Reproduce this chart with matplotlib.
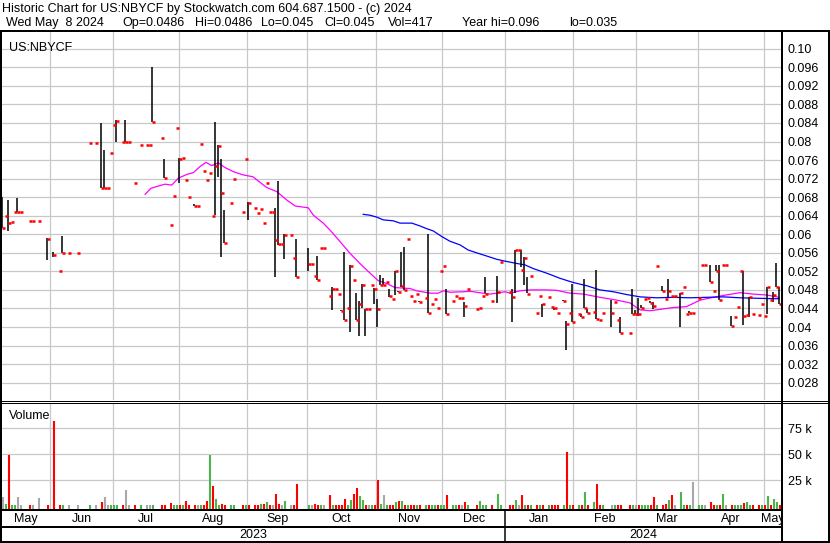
import numpy as np
import matplotlib
matplotlib.use("Agg")
import matplotlib.pyplot as plt
from matplotlib.lines import Line2D

plt.rcParams['font.family'] = ['Liberation Sans', 'DejaVu Sans']

W, H = 830, 543

# closing prices by trading day index (0 = first day shown)
close_day = [0, 1, 2, 3, 4, 5, 6, 9, 10, 12, 15, 17, 19, 20, 22, 25, 29, 31, 33, 34,
             35, 36, 37, 38, 40, 41, 42, 44, 46, 48, 49, 50, 53, 54, 56, 57, 58, 59, 60, 61,
             62, 64, 65, 66, 67, 68, 69, 70, 71, 72, 73, 74, 76, 77, 80, 81, 82, 84, 85, 86,
             87, 88, 89, 90, 91, 92, 93, 94, 96, 97, 98, 102, 103, 104, 105, 106, 107, 109, 110, 111,
             112, 113, 114, 115, 116, 117, 118, 119, 120, 121, 122, 123, 124, 125, 126, 127, 128, 129, 130, 131,
             132, 133, 134, 135, 136, 137, 138, 139, 141, 142, 143, 144, 145, 146, 147, 148, 150, 151, 152, 153,
             154, 155, 158, 159, 160, 161, 163, 165, 166, 169, 170, 171, 172, 173, 174, 175, 176, 178, 179, 180,
             182, 183, 184, 185, 187, 188, 189, 190, 192, 193, 194, 195, 197, 198, 199, 200, 203, 204, 205, 206,
             209, 210, 211, 212, 213, 214, 215, 216, 217, 218, 220, 221, 222, 223, 224, 226, 227, 228, 229, 230,
             232, 233, 234, 236, 237, 238, 239, 240, 241, 243, 244, 245, 246, 247, 248, 249, 250, 252, 253, 254,
             255, 256, 257, 258, 259]
close = [0.0613, 0.064, 0.0625, 0.0627, 0.0649, 0.0649, 0.0649, 0.0629, 0.0629, 0.0629, 0.059, 0.0556, 0.0521, 0.056, 0.056, 0.056, 0.0797, 0.0797, 0.070, 0.070,
         0.070, 0.0776, 0.0836, 0.0845, 0.080, 0.080, 0.080, 0.0711, 0.0793, 0.0793, 0.0793, 0.0842, 0.0807, 0.0722, 0.0621, 0.0683, 0.083, 0.0763, 0.0765, 0.0716,
         0.0681, 0.0662, 0.0662, 0.0795, 0.0737, 0.0716, 0.0733, 0.064, 0.0748, 0.0791, 0.069, 0.0582, 0.0668, 0.072, 0.0649, 0.0762, 0.0668, 0.0657, 0.0646, 0.0655,
         0.0625, 0.0711, 0.0649, 0.0649, 0.0588, 0.0578, 0.0578, 0.0599, 0.0599, 0.0549, 0.0508, 0.0536, 0.0536, 0.051, 0.0501, 0.057, 0.057, 0.0467, 0.0483, 0.0482,
         0.0471, 0.0435, 0.0416, 0.0441, 0.0532, 0.0501, 0.0416, 0.0449, 0.0491, 0.0438, 0.0438, 0.0491, 0.0483, 0.0438, 0.0491, 0.0491, 0.0497, 0.0467, 0.0461, 0.0521,
         0.0475, 0.0488, 0.048, 0.059, 0.0467, 0.0456, 0.0471, 0.0455, 0.0463, 0.0431, 0.0449, 0.0461, 0.0442, 0.0521, 0.0532, 0.0428, 0.0456, 0.0467, 0.0463, 0.0463,
         0.0446, 0.0483, 0.0438, 0.0442, 0.0467, 0.0471, 0.0456, 0.0475, 0.0541, 0.0475, 0.0465, 0.0565, 0.0565, 0.0524, 0.0549, 0.0471, 0.0511, 0.0431, 0.0467, 0.0449,
         0.0465, 0.0444, 0.044, 0.0431, 0.0456, 0.0407, 0.0431, 0.0411, 0.0427, 0.0422, 0.0442, 0.0431, 0.0433, 0.0418, 0.0416, 0.0431, 0.0431, 0.0455, 0.0415, 0.0388,
         0.0386, 0.0429, 0.0429, 0.0427, 0.0442, 0.0461, 0.0463, 0.0452, 0.0446, 0.0532, 0.0478, 0.0461, 0.0478, 0.0466, 0.0466, 0.0473, 0.0487, 0.0427, 0.0431, 0.0431,
         0.0462, 0.0534, 0.0534, 0.0497, 0.0478, 0.0521, 0.0458, 0.0534, 0.0534, 0.0402, 0.0422, 0.0444, 0.0521, 0.0424, 0.0425, 0.0465, 0.0427, 0.0425, 0.0449, 0.0424,
         0.0487, 0.0458, 0.0469, 0.0487, 0.045]

# daily high-low ranges (only days where high != low)
range_day = [0, 2, 5, 15, 17, 20, 33, 34, 38, 41, 50, 54, 59, 64, 71, 72, 73, 74, 82, 91,
             92, 94, 98, 102, 105, 110, 113, 114, 116, 118, 119, 120, 121, 124, 125, 126, 127, 129, 131, 132,
             133, 134, 139, 142, 148, 154, 161, 165, 170, 171, 173, 174, 175, 180, 184, 187, 188, 190, 193, 194,
             195, 198, 203, 206, 210, 211, 212, 213, 216, 217, 220, 222, 226, 229, 236, 238, 239, 243, 247, 249,
             255, 257, 258, 259]
range_high = [0.068, 0.0674, 0.0678, 0.0592, 0.0562, 0.0596, 0.084, 0.0782, 0.0846, 0.0846, 0.096, 0.0762, 0.0764, 0.0666, 0.0842, 0.0792, 0.0762, 0.0652, 0.067, 0.0657,
              0.0715, 0.060, 0.059, 0.057, 0.0553, 0.0486, 0.0437, 0.0562, 0.0533, 0.0473, 0.0456, 0.0493, 0.0439, 0.0484, 0.046, 0.0512, 0.0505, 0.0482, 0.0521, 0.0478,
              0.0562, 0.0572, 0.0457, 0.060, 0.0482, 0.0454, 0.0508, 0.051, 0.0482, 0.0565, 0.0565, 0.0551, 0.0507, 0.0449, 0.0442, 0.0458, 0.0413, 0.0493, 0.0429, 0.0503,
              0.0438, 0.0522, 0.0458, 0.0421, 0.0482, 0.0436, 0.0462, 0.0447, 0.0456, 0.0454, 0.0488, 0.0504, 0.0474, 0.0435, 0.0534, 0.0534, 0.0534, 0.0424, 0.0521, 0.0465,
              0.0487, 0.0475, 0.0537, 0.0486]
range_low = [0.0613, 0.0608, 0.0648, 0.0545, 0.0551, 0.056, 0.070, 0.070, 0.0799, 0.080, 0.0842, 0.0722, 0.0711, 0.0662, 0.0642, 0.0724, 0.0552, 0.0582, 0.0631, 0.0507,
             0.0577, 0.0547, 0.0508, 0.0521, 0.0501, 0.0437, 0.0435, 0.0415, 0.039, 0.0415, 0.0381, 0.0442, 0.0381, 0.0449, 0.040, 0.0491, 0.0491, 0.0465, 0.0469, 0.0475,
             0.0487, 0.048, 0.0455, 0.0431, 0.0428, 0.0422, 0.0473, 0.0452, 0.0411, 0.0473, 0.0529, 0.0491, 0.0473, 0.0422, 0.0436, 0.0456, 0.0351, 0.0411, 0.0422, 0.0442,
             0.0431, 0.0418, 0.040, 0.0388, 0.0427, 0.0429, 0.0424, 0.0442, 0.0452, 0.0438, 0.0478, 0.0464, 0.040, 0.0431, 0.0497, 0.0521, 0.0458, 0.0402, 0.0404, 0.0422,
             0.0427, 0.0455, 0.0487, 0.045]

# volume in thousands, same days as close_day
volume = [9, 2, 49, 1.5, 1, 9, 1, 1.2, 1.2, 8, 1.2, 82, 1.2, 1.2, 1.2, 1.2, 1.2, 1.2, 4, 9,
          1.2, 1.2, 1.2, 1.2, 1.2, 15.7, 1.2, 1.2, 1.2, 1.2, 1.2, 1.2, 1.2, 1.2, 3, 1.2, 1.2, 1.2, 1.2, 5,
          1.2, 1.2, 1.2, 1.2, 1.2, 5, 49, 19.6, 7, 1.5, 2, 1.2, 1.2, 1.2, 1.2, 1.2, 1.2, 1.2, 1.2, 2,
          2, 4, 1.2, 1.2, 12, 2, 1.2, 5, 1.2, 1.2, 21.5, 1.2, 1.5, 2, 1.2, 1.5, 1.2, 11, 1.2, 1.2,
          1.2, 1.2, 7, 1.5, 6, 12, 17.6, 10, 6, 1.5, 1.2, 1.5, 1.2, 25, 2, 11, 1.2, 1.2, 1.2, 4,
          5, 5, 1.5, 1.2, 1.2, 1.2, 1.2, 1.2, 1.5, 1.5, 1.2, 1.2, 1.2, 1.2, 1.2, 11, 1.2, 1.5, 1.2, 1.5,
          4, 1.2, 1.2, 5, 1.5, 1.2, 1.5, 12, 1.5, 1.2, 1.2, 6, 1.2, 11, 1.2, 1.2, 1.2, 1.2, 1.5, 1.2,
          1.2, 1.2, 1.2, 1.2, 1.2, 52, 1.5, 1.2, 1.2, 1.2, 14, 1.2, 4, 21, 1.5, 1.2, 1.2, 1.5, 1.2, 1.2,
          1.2, 1.2, 1.5, 1.2, 1.2, 1.2, 1.2, 1.5, 9, 1.5, 1.2, 2, 6, 11, 1.2, 14, 1.2, 1.2, 1.2, 23,
          1.2, 1.2, 1.5, 4, 1.2, 1.2, 1.2, 12, 1.2, 1.2, 1.2, 1.2, 1.2, 3, 4, 1.5, 1.2, 1.2, 1.2, 1.2,
          10, 1.2, 7, 4, 1.2]

# moving averages (day index, price)
ma_short_day = [47.7, 49.6, 51.6, 54.3, 56.6, 58.8, 61.6, 63.8, 66, 68, 69.9, 72.1, 74.3, 77.1, 80.4, 83.6, 86, 88.2, 91.6, 94.9,
                97.7, 102.1, 103.8, 107.1, 109.9, 112.7, 116, 119.3, 122.7, 125.4, 128.2, 131, 136, 138.2, 142.7, 145.4, 147.1, 149.3, 153.7, 156,
                160.3, 162.7, 164.9, 167.7, 169.3, 172.7, 176, 181.6, 184.9, 189.3, 193.8, 199.3, 204.9, 209.3, 212.7, 216, 220.4, 223.8, 228.2, 232.7,
                237.1, 240.4, 246, 250.4, 254.9, 259]
ma_short = [0.0686, 0.0699, 0.0703, 0.0708, 0.0706, 0.0721, 0.0729, 0.0733, 0.0746, 0.0755, 0.0748, 0.0754, 0.0744, 0.0735, 0.0728, 0.0724, 0.0712, 0.0701, 0.0692, 0.0674,
            0.0661, 0.0657, 0.0641, 0.0624, 0.0605, 0.0584, 0.0559, 0.0537, 0.0516, 0.0500, 0.0494, 0.0485, 0.0483, 0.0478, 0.0473, 0.0473, 0.0478, 0.0475, 0.0476, 0.0477,
            0.0473, 0.0471, 0.0473, 0.0476, 0.0473, 0.0478, 0.0480, 0.0480, 0.0479, 0.0473, 0.0471, 0.0464, 0.0458, 0.0452, 0.0437, 0.0435, 0.0439, 0.0442, 0.0444, 0.0458,
            0.0464, 0.0468, 0.0474, 0.0471, 0.0469, 0.0464]
ma_long_day = [120.4, 122.7, 124.9, 127.1, 130.4, 132.7, 136.6, 139.3, 141.6, 143.8, 146.6, 149.3, 152.7, 155.4, 158.2, 161.6, 164.9, 167.7, 171.6, 174.3,
               177.1, 181.6, 186, 190.4, 194.9, 199.3, 203.8, 208.2, 212.7, 218.2, 223.8, 229.3, 234.9, 240.4, 246, 251.6, 257.1, 259]
ma_long = [0.0643, 0.0641, 0.0637, 0.0631, 0.0629, 0.0624, 0.0624, 0.0618, 0.0612, 0.0607, 0.0595, 0.0585, 0.0577, 0.0566, 0.0560, 0.0553, 0.0546, 0.0542, 0.0537, 0.0534,
           0.0526, 0.0516, 0.0505, 0.0496, 0.0489, 0.0480, 0.0476, 0.0470, 0.0465, 0.0463, 0.0464, 0.0463, 0.0464, 0.0465, 0.0463, 0.0462, 0.0461, 0.0461]

# month boundaries (day index) and labels
month_start = [0, 16, 37, 59, 81.7, 101.7, 124.7, 146.7, 167.7, 190.3, 211.3, 232, 254, 259.67]
month_labels = ['May', 'Jun', 'Jul', 'Aug', 'Sep', 'Oct', 'Nov', 'Dec', 'Jan', 'Feb', 'Mar', 'Apr', 'May']
year_labels = ['2023', '2024']

price_ticks = [0.10, 0.096, 0.092, 0.088, 0.084, 0.08, 0.076, 0.072, 0.068, 0.064, 0.06,
               0.056, 0.052, 0.048, 0.044, 0.04, 0.036, 0.032, 0.028]
price_tick_labels = ['0.10', '0.096', '0.092', '0.088', '0.084', '0.08', '0.076', '0.072', '0.068',
                     '0.064', '0.06', '0.056', '0.052', '0.048', '0.044', '0.04', '0.036', '0.032', '0.028']
vol_ticks = [25, 50, 75]
vol_tick_labels = ['25 k', '50 k', '75 k']

title_line = 'Historic Chart for US:NBYCF by Stockwatch.com 604.687.1500 - (c) 2024'
info_parts = ['Wed May  8 2024', 'Op=0.0486', 'Hi=0.0486', 'Lo=0.045', 'Cl=0.045',
              'Vol=417', 'Year hi=0.096', 'lo=0.035']
info_x = [6, 122, 195, 261, 324, 388, 462, 569]   # pixel positions of header fields

GRID = '#c8c8c8'
FS = 9

fig = plt.figure(figsize=(W / 100, H / 100), dpi=100)
fig.patch.set_facecolor('white')


def px_axes(left, top, right, bottom):
    return fig.add_axes([left / W, 1 - bottom / H, (right - left) / W, (bottom - top) / H])


def fig_line(x0, y0, x1, y1, lw=1.0):
    fig.add_artist(Line2D([x0 / W, x1 / W], [1 - y0 / H, 1 - y1 / H], color='black',
                          lw=lw * 0.72, transform=fig.transFigure, solid_capstyle='butt'))


xmax = month_start[-1]
close_day = np.array(close_day)
close = np.array(close)

# price panel
ax = px_axes(2, 31, 781, 400)
ax.set_xlim(0, xmax)
ax.set_ylim(0.02426, 0.10383)
for s in ax.spines.values():
    s.set_visible(False)
ax.set_xticks([])
ax.yaxis.tick_right()
ax.set_yticks(price_ticks)
ax.set_yticklabels(price_tick_labels, fontsize=FS)
ax.tick_params(axis='y', length=0, pad=5)
for t in price_ticks:
    ax.axhline(t, color=GRID, lw=0.9, zorder=0)
for m in month_start[1:-1]:
    ax.axvline(m, color=GRID, lw=0.9, zorder=0)

ax.plot(ma_short_day, ma_short, color='#ff00ff', lw=0.9, zorder=2)
ax.plot(ma_long_day, ma_long, color='#0000ff', lw=0.9, zorder=2)
ax.vlines(np.array(range_day) + 0.1, range_low, range_high, color='black', lw=1.1, zorder=3)
ax.hlines(close, close_day, close_day + 1, color='#ff0000', lw=1.8, zorder=4, capstyle='butt')
ax.text(0.009, 0.97, 'US:NBYCF', transform=ax.transAxes, fontsize=FS, va='top', ha='left')

# volume panel
axv = px_axes(2, 403, 781, 509)
axv.set_xlim(0, xmax)
vol_floor = -2.6
axv.set_ylim(vol_floor, 99.3)
for s in axv.spines.values():
    s.set_visible(False)
axv.set_xticks([])
axv.yaxis.tick_right()
axv.set_yticks(vol_ticks)
axv.set_yticklabels(vol_tick_labels, fontsize=FS)
axv.tick_params(axis='y', length=0, pad=5)
for t in vol_ticks:
    axv.axhline(t, color=GRID, lw=0.9, zorder=0)
for m in month_start[1:-1]:
    axv.axvline(m, color=GRID, lw=0.9, zorder=0)

change = np.sign(np.diff(close, prepend=close[0]))
vol_colors = ['#ff0000' if c < 0 else '#4cb44c' if c > 0 else '#a8a8a8' for c in change]
axv.vlines(close_day + 0.3, vol_floor, volume, colors=vol_colors, lw=1.5, zorder=2)
axv.text(0.009, 0.93, 'Volume', transform=axv.transAxes, fontsize=FS, va='top', ha='left')

# month row
axm = px_axes(2, 510, 781, 526)
axm.set_xlim(0, xmax)
axm.set_ylim(0, 1)
axm.axis('off')
for i, lab in enumerate(month_labels):
    axm.text((month_start[i] + month_start[i + 1]) / 2, 0.45, lab, fontsize=FS,
             ha='center', va='center', clip_on=True)

# year row
axy = px_axes(2, 527, 781, 541)
axy.set_xlim(0, xmax)
axy.set_ylim(0, 1)
axy.axis('off')
axy.text(month_start[8] / 2, 0.45, year_labels[0], fontsize=FS, ha='center', va='center')
axy.text((month_start[8] + xmax) / 2, 0.45, year_labels[1], fontsize=FS, ha='center', va='center')

# header
fig.text(2 / W, 1 - 9 / H, title_line, fontsize=FS, ha='left', va='center')
for part, px in zip(info_parts, info_x):
    fig.text(px / W, 1 - 23 / H, part, fontsize=FS, ha='left', va='center')

# frame lines
fig_line(0, 31, W, 31, 2)
fig_line(1, 31, 1, 542, 2)
fig_line(781.5, 31, 781.5, 542, 2)
fig_line(828.5, 31, 828.5, 542, 2)
fig_line(0, 400.5, W, 400.5, 1)
fig_line(0, 402.5, W, 402.5, 1)
fig_line(0, 509.5, 782, 509.5, 2)
fig_line(0, 526.5, 782, 526.5, 2)
fig_line(0, 541.5, W, 541.5, 2)
fig_line(505, 510, 505, 542, 1.5)

fig.savefig('out.png', dpi=100)
